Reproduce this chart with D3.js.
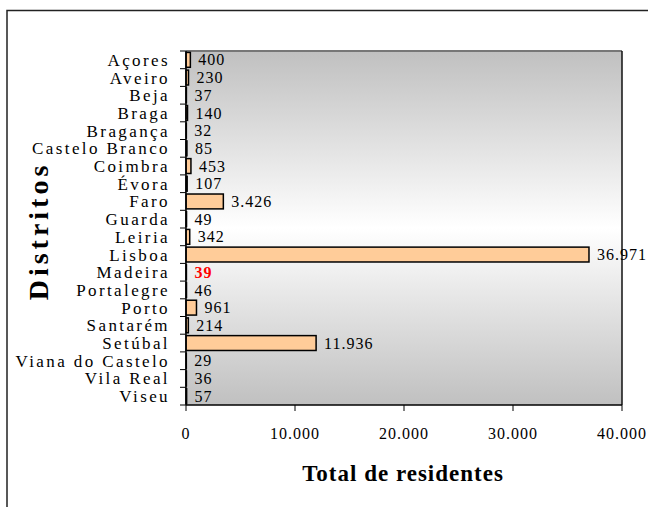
<!DOCTYPE html>
<html><head><meta charset="utf-8">
<script src="https://cdn.jsdelivr.net/npm/d3@7"></script>
<style>body{margin:0;background:#fff}svg{display:block}</style>
</head><body>
<svg id="c" width="648" height="507" font-family="'Liberation Serif', 'Times New Roman', serif"></svg>
<script>
const categories = ["Açores","Aveiro","Beja","Braga","Bragança","Castelo Branco","Coimbra","Évora","Faro","Guarda","Leiria","Lisboa","Madeira","Portalegre","Porto","Santarém","Setúbal","Viana do Castelo","Vila Real","Viseu"];
const values = [400,230,37,140,32,85,453,107,3426,49,342,36971,39,46,961,214,11936,29,36,57];
const xTicks = [0,10000,20000,30000,40000];
const highlight = "Madeira";

const svg = d3.select("#c");
const m = {l:186, t:51, r:622, b:405};
const fmt = v => d3.format(",")(v).replace(/,/g,".");

const x = d3.scaleLinear().domain([0,40000]).range([m.l, m.r]);
const y = d3.scaleBand().domain(categories).range([m.t, m.b]).paddingInner(0.16).paddingOuter(0.08);

// outer frame
svg.append("rect").attr("x",7).attr("y",10.5).attr("width",700).attr("height",600)
  .attr("fill","none").attr("stroke","#222").attr("stroke-width",1.5);

const defs = svg.append("defs");
const g = defs.append("linearGradient").attr("id","bg").attr("x1",0).attr("y1",0).attr("x2",0).attr("y2",1);
g.append("stop").attr("offset",0).attr("stop-color","#c0c0c0");
g.append("stop").attr("offset",0.5).attr("stop-color","#ffffff");
g.append("stop").attr("offset",1).attr("stop-color","#c0c0c0");

svg.append("rect").attr("x",m.l).attr("y",m.t).attr("width",m.r-m.l).attr("height",m.b-m.t).attr("fill","url(#bg)");
svg.append("line").attr("x1",m.l).attr("x2",m.r).attr("y1",m.t).attr("y2",m.t).attr("stroke","#777").attr("stroke-width",2);
svg.append("line").attr("x1",m.r).attr("x2",m.r).attr("y1",m.t).attr("y2",m.b).attr("stroke","#111").attr("stroke-width",1.5);

// bars
svg.selectAll("rect.bar").data(categories).enter().append("rect").attr("class","bar")
  .attr("x",x(0)).attr("y",d=>y(d)).attr("width",(d,i)=>x(values[i])-x(0)).attr("height",y.bandwidth())
  .attr("fill","#ffcc99").attr("stroke","#000").attr("stroke-width",1.5);

// value labels
svg.selectAll("text.val").data(categories).enter().append("text").attr("class","val")
  .attr("x",(d,i)=>x(values[i])+8).attr("y",d=>y(d)+y.bandwidth()/2).attr("dy","0.35em")
  .attr("font-size",16).attr("letter-spacing",1)
  .attr("font-weight",d=>d===highlight?"bold":"normal")
  .attr("fill",d=>d===highlight?"#ff0000":"#000")
  .text((d,i)=>fmt(values[i]));

// y axis
svg.append("line").attr("x1",m.l).attr("x2",m.l).attr("y1",m.t).attr("y2",m.b).attr("stroke","#000").attr("stroke-width",1.5);
const bounds = d3.range(categories.length+1).map(i=>m.t+i*(m.b-m.t)/categories.length);
svg.selectAll("line.yt").data(bounds).enter().append("line").attr("class","yt")
  .attr("x1",m.l-6).attr("x2",m.l).attr("y1",d=>d).attr("y2",d=>d).attr("stroke","#000");
svg.selectAll("text.cat").data(categories).enter().append("text").attr("class","cat")
  .attr("x",170).attr("y",d=>y(d)+y.bandwidth()/2).attr("dy","0.35em").attr("text-anchor","end")
  .attr("font-size",17).attr("letter-spacing",2.4).text(d=>d);

// x axis
svg.append("line").attr("x1",m.l).attr("x2",m.r).attr("y1",m.b).attr("y2",m.b).attr("stroke","#000").attr("stroke-width",1.5);
svg.selectAll("line.xt").data(xTicks).enter().append("line").attr("class","xt")
  .attr("x1",d=>x(d)).attr("x2",d=>x(d)).attr("y1",m.b).attr("y2",m.b+6).attr("stroke","#000");
svg.selectAll("text.xl").data(xTicks).enter().append("text").attr("class","xl")
  .attr("x",d=>x(d)).attr("y",433).attr("dy","0.35em").attr("text-anchor","middle")
  .attr("font-size",16).attr("letter-spacing",1).text(d=>fmt(d));

svg.append("text").attr("x",403).attr("y",473).attr("dy","0.35em").attr("text-anchor","middle")
  .attr("font-size",23).attr("font-weight","bold").attr("letter-spacing",1).text("Total de residentes");
svg.append("text").attr("transform","translate(38,231) rotate(-90)").attr("dy","0.35em").attr("text-anchor","middle")
  .attr("font-size",28).attr("font-weight","bold").attr("letter-spacing",4).text("Distritos");
</script>
</body></html>
